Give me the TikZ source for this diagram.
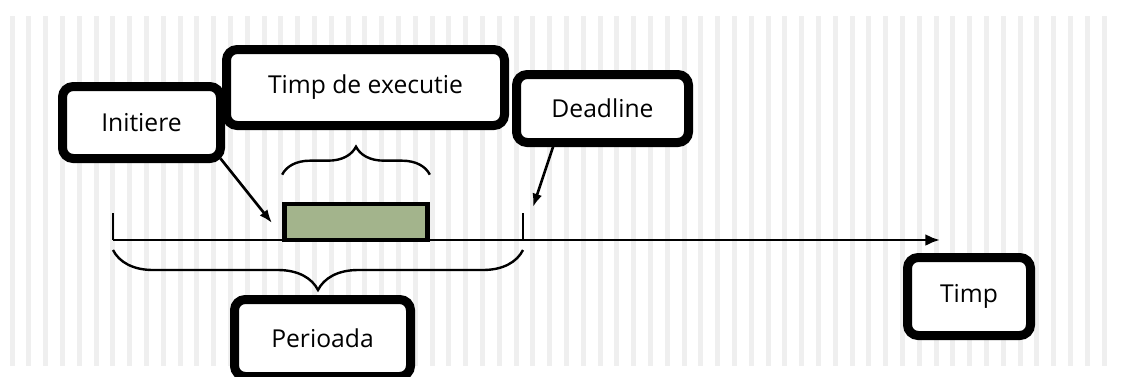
\documentclass[tikz,border=0pt]{standalone}
\usepackage{fontspec}
\setmainfont{Open Sans}
\usepackage{tikz}
\usetikzlibrary{shapes,arrows.meta,positioning,calc,decorations.pathreplacing}

\definecolor{barfill}{HTML}{A3B48C}
\definecolor{stripe}{HTML}{EFEFEF}

\begin{document}
\begin{tikzpicture}[x=0.75pt,y=-0.75pt,
    callout/.style={rectangle,draw,line width=6.75pt,rounded corners=8pt,fill=white,outer sep=0pt,inner sep=0pt,font=\fontsize{18.5}{22}\selectfont},
    brace/.style={decorate,decoration={brace,amplitude=#1},line width=1.8pt},
    pointer/.style={-{Latex[length=10pt,width=7.5pt]},line width=2pt}]
    \useasboundingbox (0,0) rectangle (1125,376);

    % 背景
    \foreach \i in {0,...,65}
        \fill[stripe] ({9.5+16.8*\i},16) rectangle ++(5,350);

    % 时间轴
    \coordinate (start) at (113,240);
    \coordinate (dead) at (523,240);
    \coordinate (axend) at (940,240);
    \draw[line width=2.2pt,-{Latex[length=11pt,width=9pt]}] (start) -- (axend);
    \draw[line width=2.2pt] (start) -- ++(0,-27);
    \draw[line width=2.2pt] (dead) -- ++(0,-27);
    \node[rectangle,draw,line width=3.5pt,fill=barfill,minimum width=107.25pt,minimum height=27pt] (exec) at (356,222) {};

    % 标签
    \node[callout,minimum width=118.5pt,minimum height=54pt] (init) at (141.5,122.5) {Initiere};
    \node[callout,minimum width=208.5pt,minimum height=57pt] (exectime) at (365.5,87.5) {Timp de executie};
    \node[callout,minimum width=129pt,minimum height=51pt] (deadline) at (602.5,108.5) {Deadline};
    \node[callout,minimum width=132pt,minimum height=57.75pt] (period) at (322.5,338) {Perioada};
    \node[callout,minimum width=92.25pt,minimum height=58.5pt] (timp) at (969,296.5) {Timp};

    % 连线
    \coordinate (inittip) at (272,223);
    \coordinate (deadtip) at (533,207);
    \draw[pointer] (init.south east) -- (inittip);
    \draw[pointer] ($(deadline.south west)+(38,0)$) -- (deadtip);

    % 括号
    \draw[brace=21pt] ($(exec.north west)+(0,-27)$) -- ($(exec.north east)+(0,-27)$);
    \draw[brace=30pt] ($(dead)+(0,10)$) -- ($(start)+(0,10)$);
\end{tikzpicture}
\end{document}
